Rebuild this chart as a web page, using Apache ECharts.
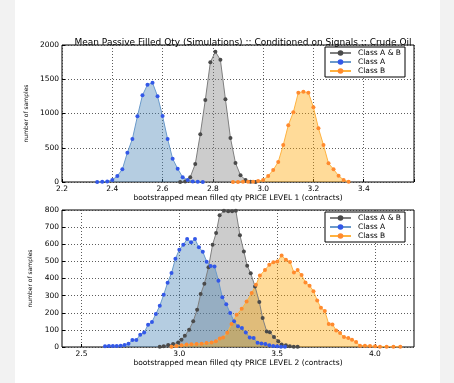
<!DOCTYPE html>
<html>
<head>
<meta charset="utf-8">
<script src="https://cdn.jsdelivr.net/npm/echarts@6/dist/echarts.min.js"></script>
<style>
  html, body { margin: 0; padding: 0; }
  #chart {
    width: 454px;
    height: 383px;
    background: linear-gradient(to right, #f2f2f2 15px, #fff 15px, #fff 440px, #f2f2f2 440px);
  }
</style>
</head>
<body>
<div id="chart"></div>
<script>
// level 1 histograms: [bin centre, count]
const abLevel1 = [[2.67,1],[2.69,8],[2.71,70],[2.73,262],[2.75,698],[2.77,1197],[2.79,1747],[2.81,1902],[2.83,1783],[2.85,1207],[2.87,642],[2.89,277],[2.91,98],[2.93,29],[2.95,5],[2.97,1]]
const aLevel1 = [[2.34,1],[2.36,3],[2.38,8],[2.40,30],[2.42,88],[2.44,185],[2.46,428],[2.48,628],[2.50,959],[2.52,1266],[2.54,1420],[2.56,1450],[2.58,1251],[2.60,963],[2.62,628],[2.64,340],[2.66,194],[2.68,69],[2.70,30],[2.72,8],[2.74,3],[2.76,1]]
const bLevel1 = [[2.88,1],[2.90,1],[2.92,2],[2.94,3],[2.96,5],[2.98,15],[3.00,29],[3.02,88],[3.04,175],[3.06,292],[3.08,540],[3.10,828],[3.12,1018],[3.14,1304],[3.16,1318],[3.18,1304],[3.20,1090],[3.22,784],[3.24,540],[3.26,273],[3.28,185],[3.30,92],[3.32,29],[3.34,5]]

// level 2 histograms
const abLevel2 = [[2.90,2],[2.92,5],[2.943,12],[2.968,18],[2.994,27],[3.011,42],[3.028,66],[3.050,101],[3.071,150],[3.091,218],[3.109,309],[3.128,369],[3.149,466],[3.170,597],[3.188,665],[3.206,770],[3.228,796],[3.250,792],[3.270,792],[3.289,796],[3.310,652],[3.330,558],[3.347,475],[3.365,430],[3.387,354],[3.409,263],[3.426,169],[3.447,91],[3.463,86],[3.484,58],[3.506,33],[3.523,14],[3.545,10],[3.565,5],[3.585,2],[3.605,1]]
const aLevel2 = [[2.62,4],[2.64,6],[2.66,6],[2.68,6],[2.70,8],[2.72,12],[2.74,19],[2.76,41],[2.78,41],[2.80,72],[2.82,84],[2.84,130],[2.86,146],[2.88,193],[2.90,241],[2.92,305],[2.94,375],[2.96,432],[2.98,516],[3.00,568],[3.02,597],[3.04,630],[3.06,611],[3.08,630],[3.10,582],[3.12,556],[3.14,498],[3.16,473],[3.18,470],[3.20,387],[3.22,290],[3.24,250],[3.26,198],[3.28,150],[3.30,121],[3.32,111],[3.34,84],[3.36,56],[3.38,53],[3.40,25],[3.42,21],[3.44,18],[3.46,10],[3.48,6],[3.50,4],[3.52,2],[3.54,1]]
const bLevel2 = [[2.96,2],[2.985,6],[3.011,10],[3.037,14],[3.062,16],[3.088,17],[3.114,19],[3.139,23],[3.165,27],[3.187,33],[3.207,49],[3.224,56],[3.245,83],[3.267,134],[3.293,188],[3.319,223],[3.344,266],[3.370,315],[3.392,363],[3.412,417],[3.438,450],[3.460,480],[3.481,495],[3.501,499],[3.523,534],[3.545,510],[3.566,497],[3.586,435],[3.605,449],[3.625,420],[3.645,377],[3.666,358],[3.686,326],[3.705,272],[3.724,229],[3.744,210],[3.764,134],[3.783,132],[3.802,97],[3.822,82],[3.842,58],[3.864,52],[3.883,43],[3.904,29],[3.924,8],[3.949,8],[3.975,6],[4.001,4],[4.026,2],[4.06,2],[4.095,2],[4.13,1]]

const level2Ticks = [2.5, 3.0, 3.5, 4.0]
const names = ['Class A & B', 'Class A', 'Class B']

const font = 'DejaVu Sans'
const styles = {
  'Class A & B': { line: '#7f7f7f', area: 'rgba(128,128,128,0.4)', marker: '#4a4a4a' },
  'Class A': { line: '#6a9acb', area: 'rgba(70,130,180,0.4)', marker: '#3358e8' },
  'Class B': { line: '#ffb23f', area: 'rgba(255,165,0,0.4)', marker: '#ff8a2e' }
}

const makeSeries = (name, data, idx) => ({
  name,
  type: 'line',
  xAxisIndex: idx,
  yAxisIndex: idx,
  data,
  symbol: 'circle',
  symbolSize: 4,
  showAllSymbol: true,
  animation: false,
  lineStyle: { color: styles[name].line, width: 1 },
  itemStyle: { color: styles[name].marker },
  areaStyle: { color: styles[name].area, opacity: 1 }
})

const gridLine = { show: true, lineStyle: { color: '#333', type: [1, 2], width: 0.8 } }
const tickLabel = { fontFamily: font, fontSize: 7.5, color: '#000', margin: 3 }

const yAxisBase = {
  type: 'value',
  min: 0,
  name: 'number of samples',
  nameLocation: 'middle',
  nameGap: 25,
  nameRotate: 90,
  nameTextStyle: { fontFamily: font, fontSize: 6, color: '#000' },
  axisLine: { show: false },
  axisTick: { show: true, inside: true, length: 3, lineStyle: { color: '#000' } },
  axisLabel: { ...tickLabel, formatter: v => String(v) },
  splitLine: gridLine
}

const legendBase = {
  orient: 'vertical',
  left: 325,
  width: 84,
  data: names,
  backgroundColor: '#fff',
  borderColor: '#000',
  borderWidth: 1,
  borderRadius: 0,
  padding: [2, 4, 2, 4],
  itemGap: 1,
  itemWidth: 21,
  itemHeight: 7,
  textStyle: { fontFamily: font, fontSize: 7.5, color: '#000', padding: [0, 0, 0, 2] }
}

const chart = echarts.init(document.getElementById('chart'))

chart.setOption({
  animation: false,
  title: {
    text: 'Mean Passive Filled Qty (Simulations) :: Conditioned on Signals :: Crude Oil',
    left: 238,
    textAlign: 'center',
    top: 33,
    textStyle: { fontFamily: font, fontSize: 9, fontWeight: 'normal', color: '#000' }
  },
  legend: [
    { ...legendBase, top: 47 },
    { ...legendBase, top: 212 }
  ],
  grid: [
    { left: 62, top: 45, width: 352, height: 137, show: true, borderColor: '#000', borderWidth: 1, backgroundColor: 'transparent' },
    { left: 62, top: 210, width: 352, height: 137, show: true, borderColor: '#000', borderWidth: 1, backgroundColor: 'transparent' }
  ],
  xAxis: [
    {
      type: 'value',
      gridIndex: 0,
      min: 2.2,
      max: 3.6,
      interval: 0.2,
      name: 'bootstrapped mean filled qty PRICE LEVEL 1 (contracts)',
      nameLocation: 'middle',
      nameGap: 11,
      nameTextStyle: { fontFamily: font, fontSize: 7.5, color: '#000' },
      axisLine: { show: false },
      axisTick: { show: true, inside: true, length: 3, lineStyle: { color: '#000' } },
      axisLabel: { ...tickLabel, formatter: v => (v > 3.5 ? '' : v.toFixed(1)) },
      splitLine: gridLine
    },
    {
      type: 'value',
      gridIndex: 1,
      min: 2.4,
      max: 4.2,
      name: 'bootstrapped mean filled qty PRICE LEVEL 2 (contracts)',
      nameLocation: 'middle',
      nameGap: 11,
      nameTextStyle: { fontFamily: font, fontSize: 7.5, color: '#000' },
      axisLine: { show: false },
      axisTick: { show: true, inside: true, length: 3, customValues: level2Ticks, lineStyle: { color: '#000' } },
      axisLabel: { ...tickLabel, customValues: level2Ticks, formatter: v => v.toFixed(1) },
      splitLine: gridLine
    }
  ],
  yAxis: [
    { ...yAxisBase, gridIndex: 0, max: 2000, interval: 500 },
    { ...yAxisBase, gridIndex: 1, max: 800, interval: 100 }
  ],
  series: [
    makeSeries('Class A & B', abLevel1, 0),
    makeSeries('Class A', aLevel1, 0),
    makeSeries('Class B', bLevel1, 0),
    makeSeries('Class A & B', abLevel2, 1),
    makeSeries('Class A', aLevel2, 1),
    makeSeries('Class B', bLevel2, 1)
  ]
})
</script>
</body>
</html>
